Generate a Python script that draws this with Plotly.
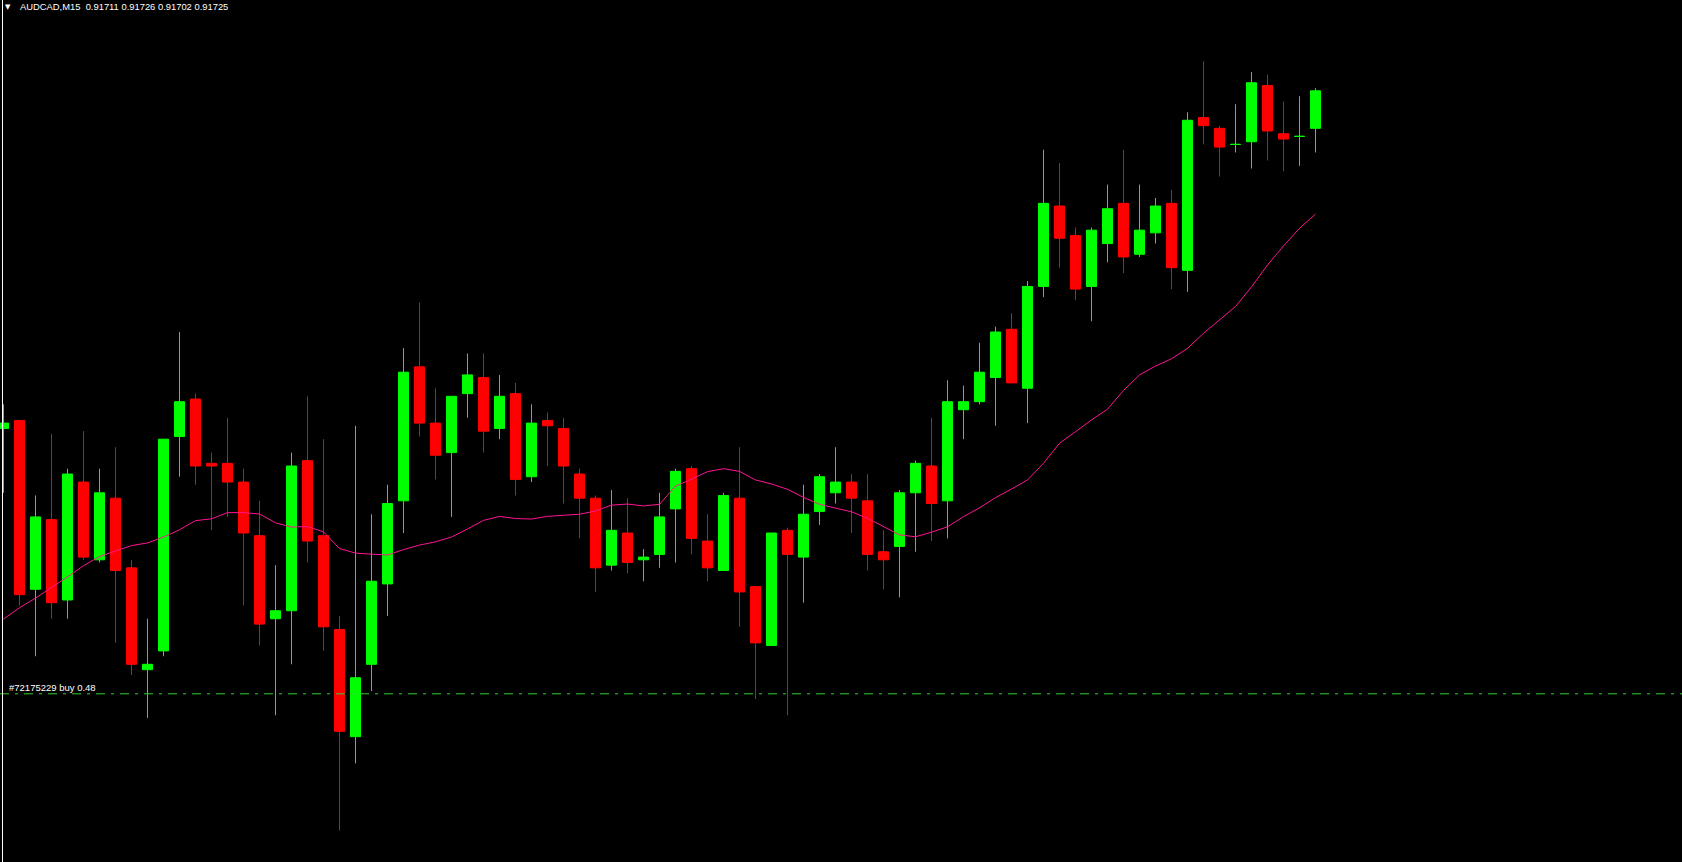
import plotly.graph_objects as go

# ---------------- data ----------------
symbol_title = "AUDCAD,M15  0.91711 0.91726 0.91702 0.91725"
order_label = "#72175229 buy 0.48"
buy_price = 0.91500

bar_index = list(range(83))

opens = [
    0.91599, 0.91602, 0.91539, 0.91565, 0.91535, 0.91579, 0.91550, 0.91573, 0.91547, 0.91509,
    0.91516, 0.91596, 0.91610, 0.91586, 0.91586, 0.91579, 0.91559, 0.91528, 0.91531, 0.91587,
    0.91559, 0.91524, 0.91484, 0.91511, 0.91541, 0.91572, 0.91622, 0.91601, 0.91590, 0.91612,
    0.91618, 0.91599, 0.91612, 0.91581, 0.91602, 0.91599, 0.91582, 0.91573, 0.91548, 0.91560,
    0.91550, 0.91552, 0.91569, 0.91584, 0.91557, 0.91546, 0.91573, 0.91540, 0.91518, 0.91561,
    0.91551, 0.91568, 0.91575, 0.91579, 0.91572, 0.91553, 0.91555, 0.91575, 0.91585, 0.91572,
    0.91606, 0.91609, 0.91618, 0.91636, 0.91614, 0.91652, 0.91682, 0.91671, 0.91652, 0.91668,
    0.91683, 0.91664, 0.91672, 0.91683, 0.91658, 0.91715, 0.91711, 0.91705, 0.91706, 0.91727,
    0.91709, 0.91708, 0.91711,
]
highs = [
    0.91608, 0.91602, 0.91574, 0.91597, 0.91584, 0.91598, 0.91584, 0.91592, 0.91550, 0.91528,
    0.91595, 0.91635, 0.91612, 0.91590, 0.91603, 0.91584, 0.91572, 0.91548, 0.91590, 0.91611,
    0.91595, 0.91529, 0.91600, 0.91567, 0.91578, 0.91629, 0.91646, 0.91614, 0.91611, 0.91627,
    0.91627, 0.91619, 0.91616, 0.91608, 0.91605, 0.91603, 0.91584, 0.91574, 0.91576, 0.91573,
    0.91554, 0.91575, 0.91584, 0.91585, 0.91567, 0.91575, 0.91592, 0.91540, 0.91560, 0.91562,
    0.91578, 0.91582, 0.91592, 0.91582, 0.91582, 0.91561, 0.91576, 0.91587, 0.91603, 0.91617,
    0.91615, 0.91631, 0.91637, 0.91642, 0.91654, 0.91703, 0.91698, 0.91674, 0.91674, 0.91690,
    0.91703, 0.91690, 0.91685, 0.91688, 0.91717, 0.91736, 0.91712, 0.91720, 0.91732, 0.91731,
    0.91721, 0.91723, 0.91726,
]
lows = [
    0.91575, 0.91533, 0.91514, 0.91528, 0.91528, 0.91550, 0.91549, 0.91519, 0.91507, 0.91491,
    0.91514, 0.91581, 0.91578, 0.91561, 0.91566, 0.91533, 0.91518, 0.91492, 0.91511, 0.91549,
    0.91516, 0.91449, 0.91474, 0.91501, 0.91529, 0.91560, 0.91596, 0.91580, 0.91566, 0.91603,
    0.91590, 0.91595, 0.91574, 0.91579, 0.91585, 0.91571, 0.91558, 0.91538, 0.91546, 0.91545,
    0.91542, 0.91547, 0.91549, 0.91552, 0.91542, 0.91546, 0.91525, 0.91498, 0.91518, 0.91492,
    0.91534, 0.91563, 0.91571, 0.91560, 0.91546, 0.91539, 0.91536, 0.91553, 0.91557, 0.91558,
    0.91595, 0.91608, 0.91600, 0.91616, 0.91601, 0.91648, 0.91659, 0.91647, 0.91639, 0.91661,
    0.91657, 0.91663, 0.91668, 0.91651, 0.91650, 0.91705, 0.91693, 0.91702, 0.91696, 0.91699,
    0.91695, 0.91697, 0.91702,
]
closes = [
    0.91601, 0.91537, 0.91566, 0.91534, 0.91582, 0.91551, 0.91575, 0.91546, 0.91511, 0.91511,
    0.91595, 0.91609, 0.91585, 0.91585, 0.91579, 0.91560, 0.91526, 0.91531, 0.91585, 0.91557,
    0.91525, 0.91486, 0.91506, 0.91542, 0.91571, 0.91620, 0.91601, 0.91589, 0.91611, 0.91619,
    0.91598, 0.91611, 0.91580, 0.91601, 0.91600, 0.91585, 0.91573, 0.91547, 0.91561, 0.91549,
    0.91551, 0.91566, 0.91583, 0.91558, 0.91547, 0.91574, 0.91538, 0.91519, 0.91560, 0.91552,
    0.91567, 0.91581, 0.91579, 0.91573, 0.91552, 0.91550, 0.91575, 0.91586, 0.91571, 0.91609,
    0.91609, 0.91620, 0.91635, 0.91616, 0.91652, 0.91683, 0.91670, 0.91651, 0.91673, 0.91681,
    0.91663, 0.91673, 0.91682, 0.91659, 0.91714, 0.91712, 0.91704, 0.91705, 0.91728, 0.91710,
    0.91707, 0.91708, 0.91725,
]
ma_values = [
    0.915279, 0.915321, 0.915357, 0.915395, 0.915436, 0.915478, 0.915512, 0.915533, 0.915553, 0.915563,
    0.915585, 0.915612, 0.915646, 0.915653, 0.915676, 0.915676, 0.915671, 0.915638, 0.915622, 0.915624,
    0.915604, 0.915542, 0.915525, 0.915521, 0.915518, 0.915538, 0.915555, 0.915567, 0.915585, 0.915615,
    0.915647, 0.915662, 0.915654, 0.915652, 0.915662, 0.915666, 0.915670, 0.915682, 0.915704, 0.915708,
    0.915701, 0.915707, 0.915775, 0.915801, 0.915829, 0.915840, 0.915830, 0.915798, 0.915783, 0.915763,
    0.915733, 0.915707, 0.915692, 0.915679, 0.915655, 0.915623, 0.915593, 0.915586, 0.915603, 0.915623,
    0.915661, 0.915694, 0.915732, 0.915764, 0.915798, 0.915860, 0.915935, 0.915978, 0.916022, 0.916062,
    0.916132, 0.916190, 0.916223, 0.916250, 0.916289, 0.916345, 0.916395, 0.916445, 0.916518, 0.916600,
    0.916671, 0.916737, 0.916790,
]

# ---------------- styling ----------------
W, H = 1682, 862
BULL = "#00FF00"
BEAR = "#FF0000"
MA_COLOR = "#FF1493"
LEVEL_COLOR = "#32CD32"
TEXT_COLOR = "#FFFFFF"

bull_idx = [i for i in bar_index if closes[i] >= opens[i]]
bear_idx = [i for i in bar_index if closes[i] < opens[i]]


def pick(values, idx):
    return [values[i] for i in idx]


def candle_trace(idx, color):
    style = dict(line=dict(color=color, width=1), fillcolor=color)
    return go.Candlestick(
        x=pick(bar_index, idx),
        open=pick(opens, idx),
        high=pick(highs, idx),
        low=pick(lows, idx),
        close=pick(closes, idx),
        increasing=style,
        decreasing=style,
        whiskerwidth=0,
        hoverinfo="skip",
        showlegend=False,
    )


fig = go.Figure()
fig.add_trace(candle_trace(bull_idx, BULL))
fig.add_trace(candle_trace(bear_idx, BEAR))
fig.add_trace(go.Scatter(
    x=bar_index, y=ma_values, mode="lines",
    line=dict(color=MA_COLOR, width=1),
    hoverinfo="skip", showlegend=False,
))

# pixel-to-axis calibration for the visible window
px_per_bar = 16.0
first_bar_px = 3.5
px_per_point = 2.68
ref_px = 157.8
ref_price = 0.91700
x_range = [-first_bar_px / px_per_bar, (W - first_bar_px) / px_per_bar]
y_range = [ref_price - (H - ref_px) / px_per_point * 1e-5,
           ref_price + ref_px / px_per_point * 1e-5]

fig.update_layout(
    width=W, height=H,
    margin=dict(l=0, r=0, t=0, b=0),
    paper_bgcolor="#000000", plot_bgcolor="#000000",
    boxgap=0.375, boxgroupgap=0.0,
    showlegend=False,
    dragmode=False,
    xaxis=dict(range=x_range, visible=False, rangeslider=dict(visible=False),
               fixedrange=True, showgrid=False, zeroline=False),
    yaxis=dict(range=y_range, visible=False, fixedrange=True,
               showgrid=False, zeroline=False),
    shapes=[
        dict(type="line", xref="paper", yref="y", x0=0, x1=1, y0=buy_price, y1=buy_price,
             line=dict(color=LEVEL_COLOR, width=1, dash="9px,6px,3px,6px"), layer="above"),
        dict(type="line", xref="paper", yref="paper", x0=2.5 / W, x1=2.5 / W, y0=0, y1=1,
             line=dict(color="#FFFFFF", width=1), layer="above"),
    ],
    annotations=[
        dict(text="▼", xref="paper", yref="paper", x=7.5 / W, y=1 - 6.5 / H,
             xanchor="center", yanchor="middle", showarrow=False,
             font=dict(family="DejaVu Sans", size=7, color=TEXT_COLOR)),
        dict(text=symbol_title, xref="paper", yref="paper", x=18 / W, y=1 - 7 / H,
             xanchor="left", yanchor="middle", showarrow=False,
             font=dict(family="Liberation Sans", size=9.4, color=TEXT_COLOR)),
        dict(text=order_label, xref="paper", yref="y", x=8 / W, y=buy_price,
             xanchor="left", yanchor="bottom", showarrow=False, borderpad=0,
             font=dict(family="Liberation Sans", size=9.5, color=TEXT_COLOR)),
    ],
)

fig.write_html(
    "out.html",
    config={"displayModeBar": False, "staticPlot": True},
    post_script="document.body.style.margin='0';document.documentElement.style.overflow='hidden';",
)
